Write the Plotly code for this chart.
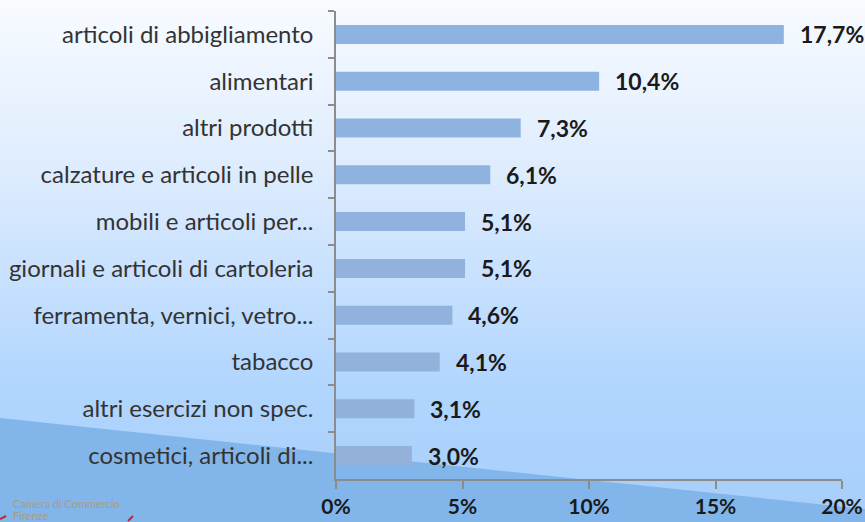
import plotly.graph_objects as go

categories = [
    "articoli di abbigliamento",
    "alimentari",
    "altri prodotti",
    "calzature e articoli in pelle",
    "mobili e articoli per...",
    "giornali e articoli di cartoleria",
    "ferramenta, vernici, vetro...",
    "tabacco",
    "altri esercizi non spec.",
    "cosmetici, articoli di...",
]
values = [17.7, 10.4, 7.3, 6.1, 5.1, 5.1, 4.6, 4.1, 3.1, 3.0]
x_ticks = [0, 5, 10, 15, 20]
x_tick_labels = ["0%", "5%", "10%", "15%", "20%"]

FONT = "Lato"
W, H = 865, 522
ML, MR, MT, MB = 336, 23, 11, 43
PW, PH = W - ML - MR, H - MT - MB


def px_x(px):
    return (px - ML) / PW


def px_y(py):
    return (H - MB - py) / PH


def hex2rgb(h):
    h = h.lstrip("#")
    return tuple(int(h[i:i + 2], 16) for i in (0, 2, 4))


stops = [(0, "#f8fbff"), (180, "#dcebfe"), (380, "#b2d6fe"), (522, "#a6cefa")]


def color_at(py):
    for (y0, c0), (y1, c1) in zip(stops[:-1], stops[1:]):
        if y0 <= py <= y1:
            t = (py - y0) / (y1 - y0)
            a, b = hex2rgb(c0), hex2rgb(c1)
            r = [round(a[i] + (b[i] - a[i]) * t) for i in range(3)]
            return "rgb(%d,%d,%d)" % tuple(r)
    return stops[-1][1]


shapes = []
n = 87
step = H / n
for i in range(n):
    y0 = i * step
    y1 = y0 + step + 1
    shapes.append(dict(type="rect", xref="paper", yref="paper", layer="below",
                       x0=px_x(0), x1=px_x(W), y0=px_y(y1), y1=px_y(y0),
                       line=dict(width=0), fillcolor=color_at(y0 + step / 2)))
# diagonal darker region
shapes.append(dict(type="path", xref="paper", yref="paper", layer="below",
                   path="M %f %f L %f %f L %f %f L %f %f Z" % (
                       px_x(0), px_y(418), px_x(W), px_y(509),
                       px_x(W), px_y(H), px_x(0), px_y(H)),
                   line=dict(width=0), fillcolor="#82b5ea"))
# tiny red marks of the logo
shapes.append(dict(type="path", xref="paper", yref="paper", layer="above",
                   path="M %f %f L %f %f" % (px_x(0), px_y(519), px_x(6), px_y(516)),
                   line=dict(width=2, color="#c0282d")))
shapes.append(dict(type="path", xref="paper", yref="paper", layer="above",
                   path="M %f %f L %f %f" % (px_x(128), px_y(521), px_x(133), px_y(516)),
                   line=dict(width=2, color="#c0282d")))

bar_colors = []
c_top, c_bot = hex2rgb("#8db3e2"), hex2rgb("#93b1d9")
for i in range(len(values)):
    t = i / (len(values) - 1)
    bar_colors.append("rgb(%d,%d,%d)" % tuple(round(c_top[k] + (c_bot[k] - c_top[k]) * t) for k in range(3)))

fig = go.Figure(go.Bar(
    x=values, y=categories, orientation="h",
    marker=dict(color=bar_colors, line=dict(width=0)),
    width=0.405, hoverinfo="skip",
))

annotations = []
for c, v in zip(categories, values):
    annotations.append(dict(x=v, y=c, xref="x", yref="y", xanchor="left", yanchor="middle",
                            xshift=14, showarrow=False,
                            text=("%.1f%%" % v).replace(".", ","),
                            font=dict(family=FONT, size=23, color="#1a1a1a", weight="bold")))
annotations.append(dict(x=px_x(11), y=px_y(503), xref="paper", yref="paper", xanchor="left",
                        yanchor="middle", showarrow=False, text="Camera di Commercio",
                        font=dict(family=FONT, size=11, color="#a89c86")))
annotations.append(dict(x=px_x(11), y=px_y(515), xref="paper", yref="paper", xanchor="left",
                        yanchor="middle", showarrow=False, text="Firenze",
                        font=dict(family=FONT, size=11, color="#a89c86")))

fig.update_layout(
    width=W, height=H,
    margin=dict(l=ML, r=MR, t=MT, b=MB, pad=0),
    paper_bgcolor="#f8fbff",
    plot_bgcolor="rgba(0,0,0,0)",
    showlegend=False,
    shapes=shapes,
    annotations=annotations,
    xaxis=dict(range=[0, 20], tickvals=x_ticks, ticktext=x_tick_labels,
               showgrid=False, zeroline=False, showline=True, linecolor="#8c8c8c", linewidth=1.5,
               ticks="outside", ticklen=8, tickcolor="#8c8c8c", tickwidth=1.5,
               tickfont=dict(family=FONT, size=21, color="#1a1a1a", weight="bold"),
               ticklabelstandoff=0, automargin=False, fixedrange=True),
    yaxis=dict(autorange="reversed", showgrid=False, zeroline=False, showline=True,
               linecolor="#8c8c8c", linewidth=1.5, ticks="outside", ticklen=6,
               tickcolor="#8c8c8c", tickwidth=1.5, tickson="boundaries",
               tickfont=dict(family=FONT, size=24, color="#333333"),
               ticklabelstandoff=16, automargin=False, fixedrange=True),
)

fig.write_html("out.html", post_script="document.body.style.margin='0';",
               config={"displayModeBar": False})
